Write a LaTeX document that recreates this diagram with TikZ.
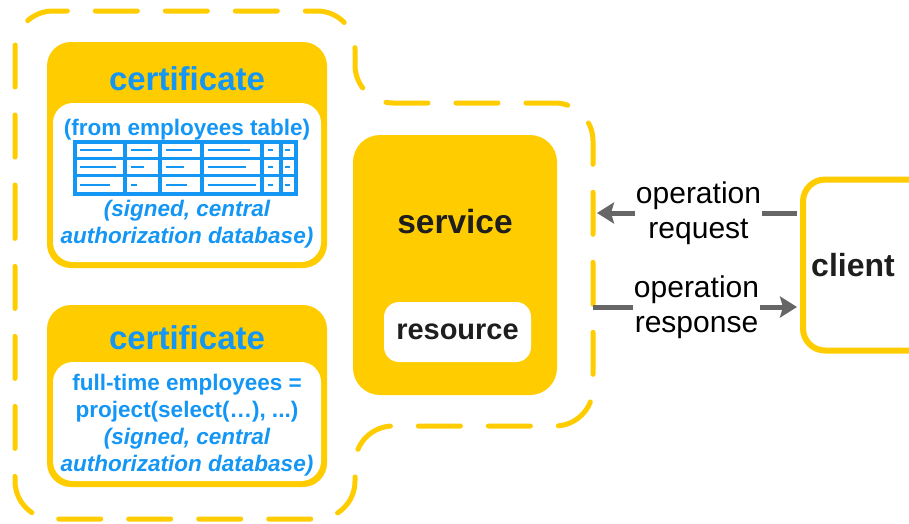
\documentclass[tikz,border=0pt]{standalone}
\usepackage{fontspec}
\setmainfont{Liberation Sans}
\usetikzlibrary{arrows.meta}
\definecolor{gold}{RGB}{255,204,0}
\definecolor{skyblue}{RGB}{20,150,245}
\definecolor{arrowgray}{RGB}{102,102,102}
\definecolor{ink}{RGB}{30,30,30}
\begin{document}
\begin{tikzpicture}[x=1pt,y=-1pt,
  certbox/.style={fill=gold,rounded corners=24pt,minimum width=280pt,inner sep=0pt},
  paper/.style={fill=white,rounded corners=20pt,minimum width=268pt,inner sep=0pt},
  title/.style={text=skyblue,font=\fontsize{33}{36}\selectfont\bfseries},
  note/.style={text=skyblue,font=\fontsize{22.5}{27}\selectfont\bfseries,align=center},
  grid/.style={skyblue,line width=3.3pt},
  flow/.style={draw=arrowgray,line width=5pt,-{Stealth[length=17pt,width=21pt,inset=3pt]}},
  lbl/.style={fill=white,inner sep=1pt,align=center,font=\fontsize{30}{35}\selectfont}]
\useasboundingbox (0,0) rectangle (909,523);
\clip (0,0) rectangle (909,523);
% dashed outline
\draw[gold,line width=5pt,line cap=round,dash pattern=on 42pt off 28pt,rounded corners=38pt]
  (15,265) -- (15,11) -- (355,11) -- (355,103) -- (593,103) -- (593,426) -- (355,426) -- (355,519) -- (15,519) -- cycle;
% first certificate
\node[certbox,minimum height=226pt] (cert1) at (187,155) {};
\node[paper,minimum height=159pt] (paper1) at (187,182.5) {};
\node[title,anchor=base] (title1) at (187,90) {certificate};
\node[note,anchor=base] (from) at (187,135) {(from employees table)};
\foreach \x in {125,160,202,262,281} \draw[grid] (\x,142) -- (\x,193.5);
\foreach \y in {158.3,175.7} \draw[grid] (74.5,\y) -- (296,\y);
\draw[grid,line width=4pt] (74.5,142) rectangle (296,193.5);
\foreach \y/\p/\q/\r/\s in {150/112/152/192/250,167.3/116/144/184/246,185/110/137/187/256}{
  \draw[skyblue,line width=2.2pt] (80,\y) -- (\p,\y) (131,\y) -- (\q,\y) (166,\y) -- (\r,\y)
    (208,\y) -- (\s,\y) (268,\y) -- (273,\y) (285,\y) -- (290,\y);
}
\node[note] (sign1) at (187,224) {\itshape (signed, central\\\itshape authorization database)};
% second certificate
\node[certbox,minimum height=182pt] (cert2) at (187,396) {};
\node[paper,minimum height=119pt] (paper2) at (187,421.5) {};
\node[title,anchor=base] (title2) at (187,349) {certificate};
\node[note] (query) at (187,425) {full-time employees =\\project(select(…), ...)\\\itshape (signed, central\\\itshape authorization database)};
% service
\node[fill=gold,rounded corners=27pt,minimum width=204pt,minimum height=260pt] (service) at (455,265) {};
\node[text=ink,font=\fontsize{33.5}{36}\selectfont\bfseries] (servicename) at (455,222) {service};
\node[fill=white,rounded corners=15pt,minimum width=147pt,minimum height=60pt,text=ink,
  font=\fontsize{29}{32}\selectfont\bfseries] (resource) at (457.5,332) {resource};
% client
\node[draw=gold,line width=6pt,fill=white,rounded corners=22pt,minimum width=140pt,minimum height=171pt] (client) at (873,265) {};
\node[text=ink,font=\fontsize{32}{36}\selectfont\bfseries] (clientname) at (853,265) {client};
\coordinate (reqtip) at (597,213);
\coordinate (resstart) at (593,307);
\draw[flow,shorten <=3pt] (client.west |- reqtip) -- node[lbl] (reqlbl) {operation\\request} (reqtip);
\draw[flow,shorten >=3pt] (resstart) -- node[lbl] (reslbl) {operation\\response} (client.west |- resstart);
\end{tikzpicture}
\end{document}
